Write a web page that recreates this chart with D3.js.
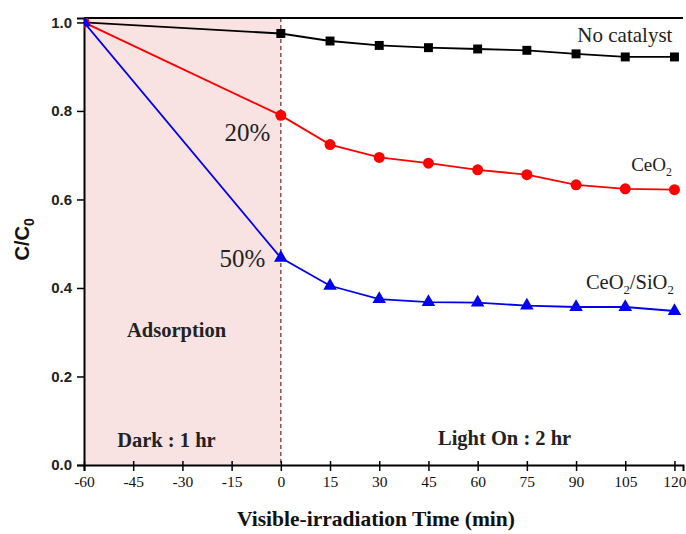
<!DOCTYPE html>
<html>
<head>
<meta charset="utf-8">
<script src="https://cdn.jsdelivr.net/npm/d3@7"></script>
<style>
  body { margin: 0; background: #fff; }
  svg { display: block; }
</style>
</head>
<body>
<div id="chart"></div>
<script>
const times = [-60, 0, 15, 30, 45, 60, 75, 90, 105, 120];
const xTicks = [-60, -45, -30, -15, 0, 15, 30, 45, 60, 75, 90, 105, 120];
const yTicks = [0, 0.2, 0.4, 0.6, 0.8, 1.0];

const noCatalyst = [1.0, 0.975, 0.958, 0.948, 0.943, 0.940, 0.937, 0.929, 0.922, 0.922];
const ceo2 = [1.0, 0.790, 0.724, 0.695, 0.682, 0.667, 0.656, 0.633, 0.624, 0.622];
const ceo2Sio2 = [1.0, 0.468, 0.405, 0.375, 0.368, 0.367, 0.360, 0.357, 0.357, 0.348];

const series = [
  { name: 'No catalyst', values: noCatalyst, color: '#000000', symbol: d3.symbolSquare, size: 80 },
  { name: 'CeO2', values: ceo2, color: '#ff0000', symbol: d3.symbolCircle, size: 95 },
  { name: 'CeO2/SiO2', values: ceo2Sio2, color: '#0000f0', symbol: d3.symbolTriangle, size: 80 },
];

const width = 686;
const height = 534;
const margin = { top: 18, right: 3, bottom: 69, left: 84 };

const svg = d3.select('#chart').append('svg')
  .attr('width', width).attr('height', height);

const x = d3.scaleLinear().domain([-60, 122.6]).range([margin.left, width - margin.right]);
const y = d3.scaleLinear().domain([0, 1.01]).range([height - margin.bottom, margin.top]);

const serif = '"Liberation Serif", "Times New Roman", serif';
const sans = '"Liberation Sans", Arial, sans-serif';

svg.append('defs').append('clipPath').attr('id', 'plot')
  .append('rect')
  .attr('x', margin.left).attr('y', margin.top)
  .attr('width', width - margin.right - margin.left)
  .attr('height', height - margin.bottom - margin.top);

// dark adsorption region
svg.append('rect')
  .attr('x', x(-60)).attr('y', margin.top)
  .attr('width', x(0) - x(-60))
  .attr('height', y(0) - margin.top)
  .attr('fill', '#f8e2e2');

svg.append('line')
  .attr('x1', x(0)).attr('x2', x(0))
  .attr('y1', margin.top).attr('y2', y(0))
  .attr('stroke', '#7a3a3a').attr('stroke-width', 1.3)
  .attr('stroke-dasharray', '4,3');

// frame top line
svg.append('line')
  .attr('x1', margin.left).attr('x2', width - margin.right)
  .attr('y1', margin.top).attr('y2', margin.top)
  .attr('stroke', '#000').attr('stroke-width', 2);

// axes
const xAxis = svg.append('g')
  .attr('transform', `translate(0,${y(0)})`)
  .call(d3.axisBottom(x).tickValues(xTicks).tickSize(6).tickPadding(5).tickFormat((d) => String(d)));
xAxis.select('.domain').attr('stroke-width', 2);
xAxis.selectAll('.tick line').attr('stroke-width', 1.5).attr('y1', -4);
xAxis.selectAll('.tick text')
  .attr('font-family', serif).attr('font-size', 15.5).attr('fill', '#111');

const yAxis = svg.append('g')
  .attr('transform', `translate(${margin.left},0)`)
  .call(d3.axisLeft(y).tickValues(yTicks).tickSize(7).tickPadding(5).tickFormat(d3.format('.1f')));
yAxis.select('.domain').attr('stroke-width', 2);
yAxis.selectAll('.tick line').attr('stroke-width', 1.5);
yAxis.selectAll('.tick text')
  .attr('font-family', sans).attr('font-weight', 700).attr('font-size', 15).attr('fill', '#222');

// series
const line = d3.line().x((d, i) => x(times[i])).y((d) => y(d));
const plot = svg.append('g').attr('clip-path', 'url(#plot)');

series.forEach((s) => {
  plot.append('path')
    .datum(s.values)
    .attr('d', line)
    .attr('fill', 'none')
    .attr('stroke', s.color)
    .attr('stroke-width', 1.8);

  plot.selectAll(null)
    .data(s.values)
    .join('path')
    .attr('transform', (d, i) => `translate(${x(times[i])},${y(d)})`)
    .attr('d', d3.symbol().type(s.symbol).size(s.size))
    .attr('fill', s.color);
});

// annotations
function label(tx, ty, parts, opts = {}) {
  const size = opts.size || 19;
  const t = svg.append('text')
    .attr('x', x(tx)).attr('y', y(ty))
    .attr('font-family', serif)
    .attr('font-size', size)
    .attr('font-weight', opts.bold ? 700 : 400)
    .attr('text-anchor', opts.anchor || 'start')
    .attr('fill', '#222');
  parts.forEach(([str, sub]) => {
    const sp = t.append('tspan').text(str);
    if (sub) sp.attr('font-size', size * 0.62).attr('dy', 5);
    else if (t.selectAll('tspan').size() > 1) sp.attr('dy', -5);
  });
  return t;
}

label(90.4, 0.955, [['No catalyst']], { size: 21 });
label(106.8, 0.665, [['CeO'], ['2', true]], { size: 19 });
label(93.0, 0.397, [['CeO'], ['2', true], ['/SiO'], ['2', true]], { size: 20.5 });
label(-3.2, 0.731, [['20%']], { size: 25, anchor: 'end' });
label(-4.7, 0.448, [['50%']], { size: 25, anchor: 'end' });
label(-46.9, 0.29, [['Adsorption']], { size: 20.5, bold: true });
label(-49.9, 0.041, [['Dark : 1 hr']], { size: 20.5, bold: true });
label(47.9, 0.045, [['Light On : 2 hr']], { size: 20.5, bold: true });

// axis titles
const yt = svg.append('text')
  .attr('transform', `translate(29,${y(0.51)}) rotate(-90)`)
  .attr('text-anchor', 'middle')
  .attr('font-family', sans).attr('font-weight', 700).attr('font-size', 20)
  .attr('fill', '#111');
yt.append('tspan').text('C/C');
yt.append('tspan').text('0').attr('font-size', 14).attr('dy', 5);

svg.append('text')
  .attr('x', x(29)).attr('y', 526)
  .attr('text-anchor', 'middle')
  .attr('font-family', serif).attr('font-weight', 700).attr('font-size', 21.5)
  .attr('fill', '#111')
  .text('Visible-irradiation Time (min)');
</script>
</body>
</html>
